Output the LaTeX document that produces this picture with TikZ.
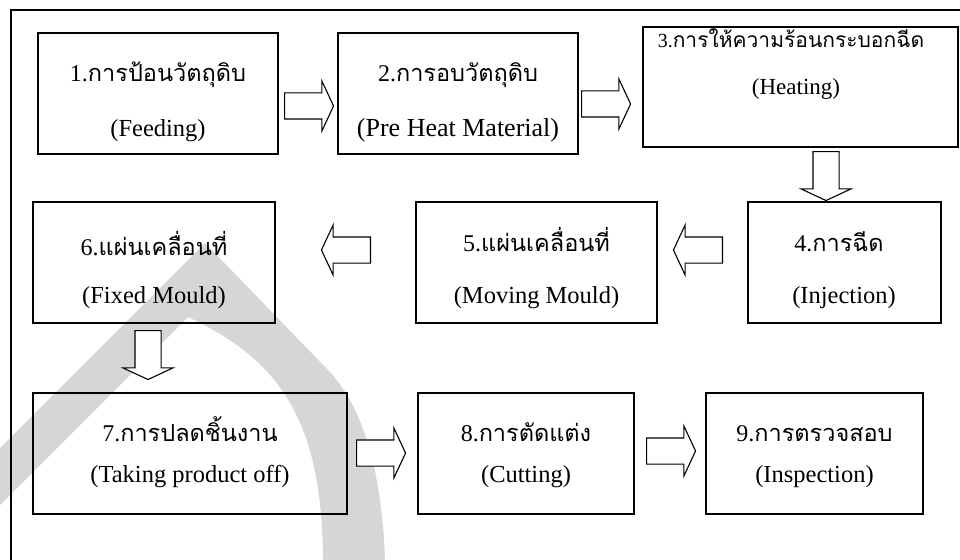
\documentclass[tikz,border=0pt]{standalone}
\usepackage{fontspec}
\setmainfont{Liberation Serif}
\newfontfamily\thaifont[Script=Thai]{Loma}
\usetikzlibrary{shapes.arrows}
\definecolor{wmgray}{RGB}{214,214,214}
\newcommand\thl[3][23.5]{#2{\thaifont\fontsize{#1}{#1}\selectfont #3}}
\begin{document}
\begin{tikzpicture}[x=1pt,y=-1pt,
 stepbox/.style={draw, line width=1.4pt, inner sep=0pt, outer sep=0pt},
 thtxt/.style={anchor=base, inner sep=0pt, font=\fontsize{24}{28}\selectfont},
 entxt/.style={anchor=base, inner sep=0pt, font=\fontsize{24.5}{28}\selectfont},
 barrow/.style={single arrow, draw, line width=1.1pt, fill=white, inner sep=0pt, inner ysep=12.5pt,
   minimum height=49pt, minimum width=49pt, single arrow tip angle=130,
   single arrow head extend=12pt, anchor=tail},
 varrow/.style={barrow, inner ysep=0pt, inner xsep=12.5pt, shape border rotate=270}]
\useasboundingbox (0,0) rectangle (960,559);
% watermark
\begin{scope}
\clip (0,0) rectangle (960,559);
\fill[wmgray, even odd rule]
  (205,243) -- (327,369) .. controls (362,404) and (382,470) .. (385,560) -- (385,640) -- (-120,640) -- (-120,568) -- cycle
  (188,317) .. controls (280,360) and (322,420) .. (323,560) -- (323,640) -- (-135,640) -- cycle;
\end{scope}
% frame
\coordinate (frR) at (975,10);
\coordinate (frTL) at (11,10);
\coordinate (frB) at (11,575);
\draw[line width=1.4pt] (frR) -- (frTL) -- (frB);
% boxes
\node[stepbox, minimum width=240pt, minimum height=121pt] (b1) at (158,93.5) {};
\node[stepbox, minimum width=240pt, minimum height=121pt] (b2) at (458,93.5) {};
\node[stepbox, minimum width=315pt, minimum height=120pt] (b3) at (800.5,87) {};
\node[stepbox, minimum width=193pt, minimum height=121pt] (b4) at (844.5,262.5) {};
\node[stepbox, minimum width=241pt, minimum height=121pt] (b5) at (536.5,262.5) {};
\node[stepbox, minimum width=242pt, minimum height=121pt] (b6) at (154,262.5) {};
\node[stepbox, minimum width=314pt, minimum height=121pt] (b7) at (190,453.5) {};
\node[stepbox, minimum width=216pt, minimum height=121pt] (b8) at (526,453.5) {};
\node[stepbox, minimum width=217pt, minimum height=121pt] (b9) at (814.5,453.5) {};
% texts
\node[thtxt] (t1a) at (158,82) {\thl{1.}{การป้อนวัตถุดิบ}};
\node[entxt] (t1b) at (158,136) {(Feeding)};
\node[thtxt] (t2a) at (458,82) {\thl{2.}{การอบวัตถุดิบ}};
\node[entxt, font=\fontsize{26}{30}\selectfont] (t2b) at (458,136) {(Pre Heat Material)};
\node[thtxt, font=\fontsize{20}{24}\selectfont] (t3a) at (791,48) {\thl[21]{3.}{การให้ความร้อนกระบอกฉีด}};
\node[entxt, font=\fontsize{23}{27}\selectfont] (t3b) at (796,95) {(Heating)};
\node[thtxt] (t4a) at (839,251) {\thl{4.}{การฉีด}};
\node[entxt] (t4b) at (844,303) {(Injection)};
\node[thtxt] (t5a) at (536.5,251) {\thl{5.}{แผ่นเคลื่อนที่}};
\node[entxt] (t5b) at (536.5,303) {(Moving Mould)};
\node[thtxt] (t6a) at (154,255) {\thl{6.}{แผ่นเคลื่อนที่}};
\node[entxt] (t6b) at (154,303) {(Fixed Mould)};
\node[thtxt] (t7a) at (190,441) {\thl{7.}{การปลดชิ้นงาน}};
\node[entxt] (t7b) at (190,482) {(Taking product off)};
\node[thtxt] (t8a) at (526,441) {\thl{8.}{การตัดแต่ง}};
\node[entxt] (t8b) at (526,482) {(Cutting)};
\node[thtxt] (t9a) at (814.5,441) {\thl{9.}{การตรวจสอบ}};
\node[entxt] (t9b) at (814.5,482) {(Inspection)};
% block arrows
\node[barrow] (a12) at (284,106) {};
\node[barrow] (a23) at (581,104) {};
\node[varrow] (a34) at (826,151) {};
\node[barrow, shape border rotate=180] (a45) at (723,250) {};
\node[barrow, shape border rotate=180] (a56) at (371,250) {};
\node[varrow] (a67) at (148,330) {};
\node[barrow] (a78) at (356,453) {};
\node[barrow] (a89) at (646,451) {};
\end{tikzpicture}
\end{document}
